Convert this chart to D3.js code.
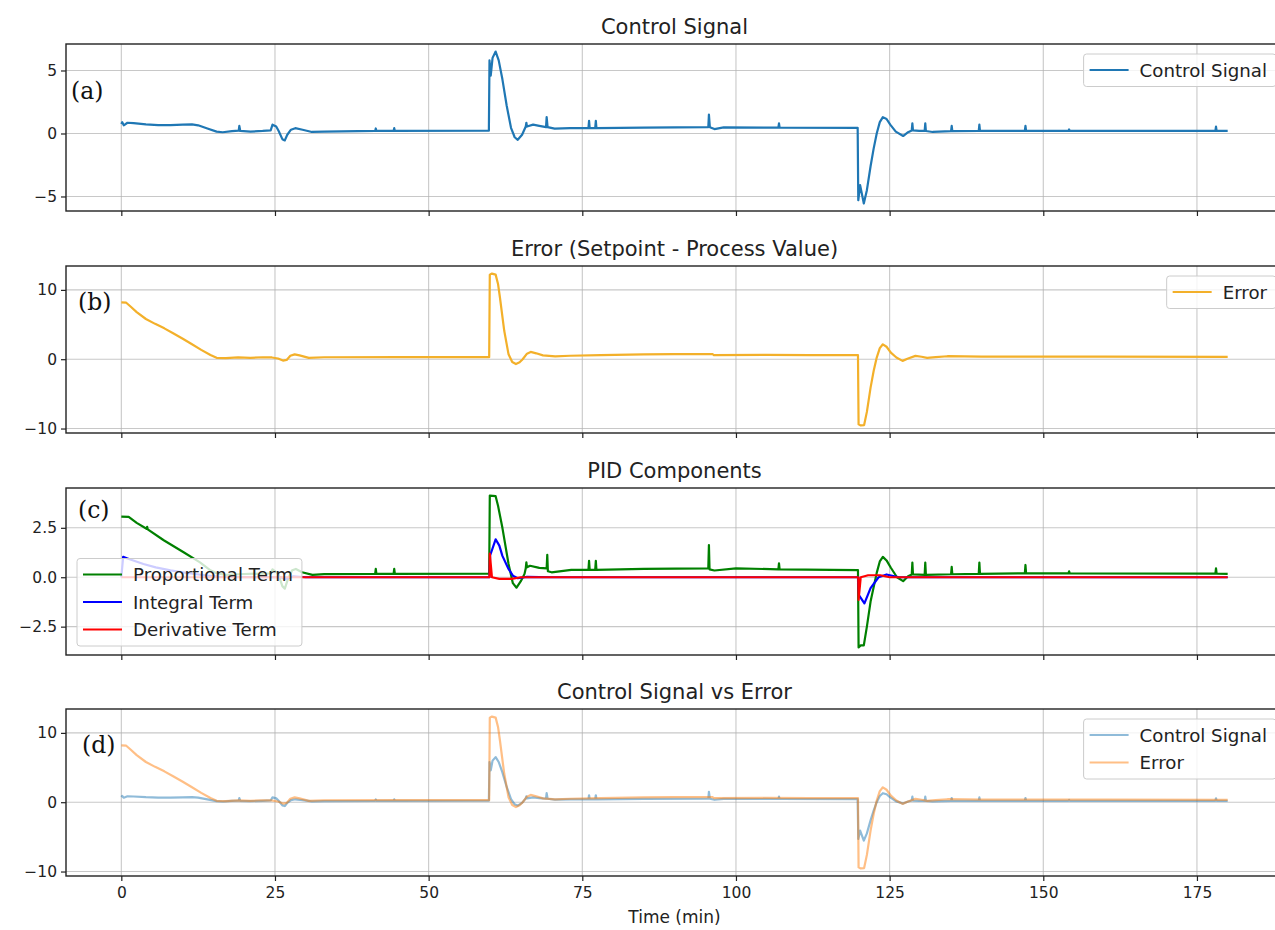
<!DOCTYPE html>
<html>

<head>
    <meta charset="UTF-8">
    <style>
        body { margin: 0; background: #fff; }
        svg { display: block; font-family: "DejaVu Sans", sans-serif; }
    </style>
</head>

<body>
    <svg></svg>
    <script src="https://d3js.org/d3.v7.min.js"></script>

    <script>

        let width = 1275, height = 930;

        // ---- data (time in min, value) ----
        const timeTicks = [0, 25, 50, 75, 100, 125, 150, 175];

        const controlSignal = [
            [0, 0.75], [0.15, 0.9], [0.4, 0.65], [1.0, 0.85], [2, 0.82], [4, 0.72], [6, 0.66], [8, 0.66],
            [10, 0.7], [11.5, 0.72], [12.5, 0.65], [14, 0.4], [15.5, 0.15], [16.5, 0.1], [18, 0.18],
            [19.1, 0.22], [19.2, 0.6], [19.35, 0.2], [21, 0.15], [23, 0.2], [24.3, 0.25], [24.6, 0.7],
            [25.2, 0.55], [25.6, 0.2], [26.2, -0.45], [26.6, -0.55], [27.0, -0.1], [27.6, 0.3], [28.3, 0.42],
            [29.5, 0.3], [31, 0.12], [33, 0.15], [41.3, 0.2], [41.4, 0.4], [41.5, 0.2], [44.3, 0.2],
            [44.4, 0.42], [44.5, 0.2], [59.8, 0.22], [59.9, 5.8], [60.1, 4.6], [60.4, 6.0], [60.9, 6.5],
            [61.4, 5.8], [62, 4.3], [62.7, 2.2], [63.4, 0.45], [64.0, -0.3], [64.5, -0.5], [65.2, -0.1],
            [65.8, 0.55], [65.9, 0.85], [66.0, 0.55], [67, 0.7], [68, 0.6], [69.1, 0.5], [69.2, 1.3],
            [69.35, 0.5], [70.5, 0.38], [73, 0.42], [76.0, 0.42], [76.1, 1.0], [76.2, 0.42], [77.1, 0.42],
            [77.2, 1.0], [77.3, 0.42], [85, 0.47], [95.5, 0.5], [95.6, 1.5], [95.75, 0.5], [96.5, 0.35],
            [98, 0.48], [106.9, 0.46], [107, 0.8], [107.1, 0.46], [119.8, 0.45], [119.9, -5.3], [120.2, -4.1],
            [120.8, -5.55], [121.3, -4.5], [121.9, -2.6], [122.4, -1.2], [122.9, 0.0], [123.4, 0.9],
            [123.9, 1.3], [124.5, 1.15], [125.1, 0.7], [126, 0.15], [127.2, -0.2], [128.0, 0.1], [128.6, 0.24],
            [128.7, 0.8], [128.8, 0.24], [129.8, 0.2], [130.7, 0.2], [130.8, 0.8], [130.9, 0.2], [132, 0.12],
            [135.0, 0.18], [135.1, 0.6], [135.2, 0.18], [139.5, 0.2], [139.6, 0.7], [139.7, 0.2], [147.0, 0.2],
            [147.1, 0.6], [147.2, 0.2], [154.1, 0.2], [154.2, 0.32], [154.3, 0.2], [178.0, 0.2], [178.1, 0.55],
            [178.2, 0.2], [180, 0.2]
        ];

        const errorSignal = [
            [0, 8.2], [0.8, 8.15], [1.5, 7.6], [2.5, 6.8], [4, 5.8], [5.5, 5.1], [7, 4.45], [8.5, 3.7],
            [10, 2.95], [11.5, 2.15], [13, 1.35], [14.5, 0.6], [15.5, 0.2], [17, 0.15], [19, 0.25], [21, 0.2],
            [23, 0.28], [24.5, 0.25], [25.5, 0.1], [26.3, -0.2], [26.9, -0.1], [27.5, 0.5], [28.2, 0.7],
            [29, 0.55], [30.5, 0.2], [33, 0.28], [45, 0.3], [59.85, 0.3], [59.95, 12.2], [60.3, 12.35],
            [60.9, 12.2], [61.3, 10.8], [61.6, 8.9], [62.3, 4.1], [63.0, 0.7], [63.6, -0.4], [64.2, -0.7],
            [64.8, -0.45], [65.3, 0.0], [66.0, 0.8], [66.6, 1.05], [67.5, 0.85], [68.6, 0.55], [70.6, 0.4],
            [73, 0.5], [78, 0.6], [85, 0.7], [90, 0.72], [96.2, 0.72], [96.4, 0.6], [105, 0.62], [112, 0.58],
            [119.85, 0.6], [119.95, -9.4], [120.3, -9.55], [120.85, -9.5], [121.3, -7.6], [121.9, -4.1],
            [122.4, -1.7], [122.9, 0.24], [123.4, 1.6], [123.9, 2.15], [124.5, 1.8], [125.2, 0.95],
            [126.1, 0.25], [127.1, -0.24], [128.0, 0.1], [129.2, 0.48], [130.2, 0.35], [131.1, 0.2],
            [132.5, 0.3], [134.4, 0.43], [140, 0.38], [160, 0.36], [180, 0.35]
        ];

        const proportionalTerm = [
            [0, 3.07], [1.2, 3.05], [2.5, 2.75], [4.1, 2.45], [4.2, 2.55], [4.3, 2.42], [6.9, 1.87],
            [10.2, 1.25], [12.8, 0.75], [14.5, 0.35], [15.5, 0.2], [17, 0.12], [19, 0.15], [24.3, 0.2],
            [24.6, 0.4], [25.5, 0.2], [26.2, -0.45], [26.6, -0.58], [27.1, -0.1], [27.8, 0.35], [28.4, 0.42],
            [29.4, 0.25], [31.1, 0.12], [33, 0.16], [41.3, 0.17], [41.4, 0.42], [41.5, 0.17], [44.3, 0.17],
            [44.4, 0.42], [44.5, 0.17], [59.85, 0.18], [59.95, 4.13], [60.9, 4.1], [61.3, 3.6], [62, 2.5],
            [63, 0.67], [63.7, -0.3], [64.3, -0.53], [65, -0.2], [65.6, 0.17], [65.8, 0.45], [65.9, 0.75],
            [66.0, 0.5], [66.5, 0.58], [68, 0.47], [69.2, 0.45], [69.3, 1.13], [69.4, 0.3], [70, 0.25],
            [73.2, 0.37], [76.0, 0.37], [76.1, 0.83], [76.2, 0.37], [77.1, 0.37], [77.2, 0.83], [77.3, 0.37],
            [85, 0.42], [95.5, 0.45], [95.6, 1.63], [95.7, 0.4], [96.5, 0.34], [100, 0.45], [106.9, 0.4],
            [107, 0.7], [107.1, 0.4], [119.85, 0.36], [119.95, -3.55], [120.3, -3.45], [120.8, -3.45],
            [121.3, -2.5], [121.9, -1.23], [122.9, 0.22], [123.4, 0.8], [123.9, 1.03], [124.5, 0.85],
            [125.2, 0.48], [126.2, 0.0], [127.2, -0.2], [128.0, 0.05], [128.6, 0.14], [128.7, 0.74],
            [128.8, 0.14], [130.7, 0.12], [130.8, 0.74], [130.9, 0.12], [135.0, 0.15], [135.1, 0.53],
            [135.2, 0.15], [139.5, 0.17], [139.6, 0.74], [139.7, 0.17], [147.0, 0.2], [147.1, 0.62],
            [147.2, 0.2], [154.1, 0.2], [154.2, 0.3], [154.3, 0.2], [178.0, 0.18], [178.1, 0.45],
            [178.2, 0.18], [180, 0.17]
        ];

        const integralTerm = [
            [0, 0], [0.3, 1.03], [1, 0.95], [3.6, 0.67], [5.6, 0.5], [8, 0.35], [11, 0.2], [14, 0.08],
            [16, 0.02], [26, 0], [26.6, -0.1], [28, 0.05], [30, 0.0], [59.9, 0.0], [60.0, 1.1], [60.9, 1.92],
            [61.5, 1.6], [62, 1.08], [63, 0.42], [63.7, 0.08], [64.5, -0.05], [66, 0.02], [70, 0],
            [119.9, 0], [120.0, -0.9], [120.9, -1.32], [121.9, -0.55], [123.2, 0.0], [124.5, 0.14],
            [126.5, 0.0], [180, 0]
        ];

        const derivativeTerm = [
            [0, 0], [59.9, 0], [59.95, 1.2], [60.3, 0.0], [61.5, -0.08], [63.5, -0.08], [65, 0],
            [119.9, 0], [119.95, -1.15], [120.3, 0], [121.5, 0.1], [123.5, 0.1], [125, 0], [180, 0]
        ];

        // ---- layout ----
        let plotLeft = 66, plotRight = 1283;
        let panelTops = [44, 266, 488, 709], panelH = 167;

        let panels = [
            {
                title: "Control Signal", tag: "(a)", yTicks: [-5, 0, 5], fmt: "d", legend: "right",
                series: [{ name: "Control Signal", data: controlSignal, color: "#1f77b4", opacity: 1 }]
            },
            {
                title: "Error (Setpoint - Process Value)", tag: "(b)", yTicks: [-10, 0, 10], fmt: "d", legend: "right",
                series: [{ name: "Error", data: errorSignal, color: "#f3b02a", opacity: 1 }]
            },
            {
                title: "PID Components", tag: "(c)", yTicks: [-2.5, 0, 2.5], fmt: ".1f", legend: "left",
                series: [
                    { name: "Proportional Term", data: proportionalTerm, color: "green", opacity: 1 },
                    { name: "Integral Term", data: integralTerm, color: "blue", opacity: 1 },
                    { name: "Derivative Term", data: derivativeTerm, color: "red", opacity: 1 }
                ]
            },
            {
                title: "Control Signal vs Error", tag: "(d)", yTicks: [-10, 0, 10], fmt: "d", legend: "right",
                series: [
                    { name: "Control Signal", data: controlSignal, color: "#1f77b4", opacity: 0.5 },
                    { name: "Error", data: errorSignal, color: "#ff7f0e", opacity: 0.5 }
                ]
            }
        ];

        let svg = d3.select("svg")
            .attr("width", width)
            .attr("height", height);

        let x = d3.scaleLinear().domain([-9, 189]).range([plotLeft, plotRight]);

        panels.forEach((p, i) => {
            let top = panelTops[i], bottom = top + panelH;

            // y limits with a 5% margin like matplotlib
            let all = p.series.flatMap(s => s.data.map(d => d[1]));
            let lo = d3.min(all), hi = d3.max(all), pad = (hi - lo) * 0.05;
            let y = d3.scaleLinear().domain([lo - pad, hi + pad]).range([bottom, top]);

            let g = svg.append("g");

            g.append("defs").append("clipPath").attr("id", "clip" + i)
                .append("rect").attr("x", plotLeft).attr("y", top)
                .attr("width", plotRight - plotLeft).attr("height", panelH);

            // grid
            g.append("g").selectAll("line").data(timeTicks).join("line")
                .attr("x1", d => x(d)).attr("x2", d => x(d))
                .attr("y1", top).attr("y2", bottom)
                .attr("stroke", "#b0b0b0").attr("stroke-opacity", 0.7).attr("stroke-width", 1.1);
            g.append("g").selectAll("line").data(p.yTicks).join("line")
                .attr("x1", plotLeft).attr("x2", plotRight)
                .attr("y1", d => y(d)).attr("y2", d => y(d))
                .attr("stroke", "#b0b0b0").attr("stroke-opacity", 0.7).attr("stroke-width", 1.1);

            // lines
            let line = d3.line().x(d => x(d[0])).y(d => y(d[1]));
            g.append("g").attr("clip-path", "url(#clip" + i + ")")
                .selectAll("path").data(p.series).join("path")
                .attr("d", s => line(s.data))
                .attr("fill", "none")
                .attr("stroke", s => s.color)
                .attr("stroke-opacity", s => s.opacity)
                .attr("stroke-width", 2.2)
                .attr("stroke-linejoin", "round");

            // axes
            let fmt = d3.format(p.fmt);
            let yAxis = d3.axisLeft(y).tickValues(p.yTicks).tickSize(5).tickPadding(4)
                .tickFormat(d => fmt(d).replace("-", "\u2212"));
            let xAxis = d3.axisBottom(x).tickValues(timeTicks).tickSize(5).tickPadding(6)
                .tickFormat(i === panels.length - 1 ? d3.format("d") : "");

            let ya = g.append("g").attr("transform", `translate(${plotLeft},0)`).call(yAxis);
            let xa = g.append("g").attr("transform", `translate(0,${bottom})`).call(xAxis);
            [ya, xa].forEach(a => {
                a.select(".domain").remove();
                a.selectAll(".tick line").attr("stroke", "#222").attr("stroke-width", 1.2);
                a.selectAll("text").attr("fill", "#222").style("font-size", "15.5px")
                    .style("font-family", "DejaVu Sans");
            });

            // frame
            g.append("rect")
                .attr("x", plotLeft).attr("y", top)
                .attr("width", plotRight - plotLeft).attr("height", panelH)
                .attr("fill", "none").attr("stroke", "#222").attr("stroke-width", 1.4);

            // title
            g.append("text")
                .attr("x", (plotLeft + plotRight) / 2).attr("y", top - 10)
                .attr("text-anchor", "middle")
                .style("font-size", "21px").attr("fill", "#222")
                .text(p.title);

            // panel tag
            g.append("text")
                .attr("x", plotLeft + (i === 0 ? 5 : i === 3 ? 16 : 12))
                .attr("y", top + (i === 0 ? 55 : i === 2 ? 30 : 44))
                .style("font-family", "DejaVu Serif")
                .style("font-size", "23.5px").attr("fill", "#111")
                .text(p.tag);

            // legend
            let lg = g.append("g");
            let rowH = 27.5, n = p.series.length;
            let texts = [];
            let items = lg.selectAll("g").data(p.series).join("g");
            items.append("line")
                .attr("x1", 6).attr("x2", 45)
                .attr("y1", (d, k) => 16 + k * rowH).attr("y2", (d, k) => 16 + k * rowH)
                .attr("stroke", d => d.color).attr("stroke-opacity", d => d.opacity)
                .attr("stroke-width", 2.2);
            items.append("text")
                .attr("x", 56).attr("y", (d, k) => 16 + k * rowH)
                .attr("dy", "0.36em")
                .style("font-size", "18.2px").attr("fill", "#222")
                .text(d => d.name)
                .each(function () { texts.push(this.getComputedTextLength()); });
            let boxW = 56 + d3.max(texts) + 9, boxH = 5 + n * rowH;
            lg.insert("rect", ":first-child")
                .attr("width", boxW).attr("height", boxH)
                .attr("rx", 3).attr("ry", 3)
                .attr("fill", "white").attr("fill-opacity", 0.8)
                .attr("stroke", "#cccccc").attr("stroke-width", 1);
            if (p.legend === "right") {
                lg.attr("transform", `translate(${plotRight - 7 - boxW},${top + 10})`);
            } else {
                lg.attr("transform", `translate(${plotLeft + 11},${bottom - 9 - boxH})`);
            }

            if (i === panels.length - 1) {
                g.append("text")
                    .attr("x", (plotLeft + plotRight) / 2).attr("y", 923)
                    .attr("text-anchor", "middle")
                    .style("font-size", "17px").attr("fill", "#222")
                    .text("Time (min)");
            }
        });

    </script>

</body>

</html>
